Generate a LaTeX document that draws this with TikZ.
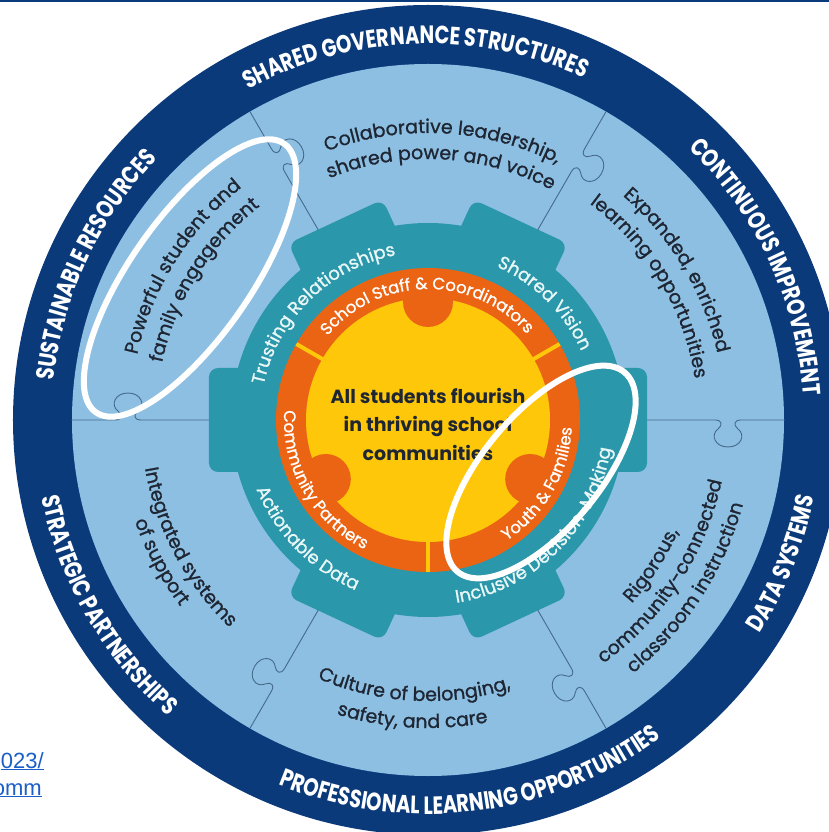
\documentclass[tikz,border=0pt]{standalone}
\usepackage{fontspec}
\setmainfont{Poppins}
\newfontfamily\ringfont[FakeStretch=0.78]{Poppins}
\newfontfamily\pzfont[FakeBold=1.1]{Poppins}
\newfontfamily\linkfont{Liberation Sans}
\usetikzlibrary{decorations.text}
\definecolor{ringblue}{HTML}{0B3A7B}
\definecolor{piecebl}{HTML}{8DBFE3}
\definecolor{gearteal}{HTML}{2A97AA}
\definecolor{ringorange}{HTML}{EB6414}
\definecolor{sunyellow}{HTML}{FFC709}
\definecolor{inktext}{HTML}{1E2633}
\definecolor{seamline}{HTML}{456A8C}
\definecolor{linkblue}{HTML}{1A5FC8}
\definecolor{gearink}{HTML}{EAF7F7}
\tikzset{
     seam/.style={seamline, line width=0.9pt},
     tooth/.style={fill=gearteal, rounded corners=9pt},
     divider/.style={sunyellow, line width=4pt},
     highlight/.style={white, line width=6pt},
     goal/.style={align=center, text=inktext, font=\bfseries\fontsize{19}{28.5}\selectfont},
     link/.style={text=linkblue, font=\linkfont\fontsize{22}{24}\selectfont, inner sep=0pt, anchor=base east},
    }
\newcommand{\ringfmt}{\color{white}\ringfont\bfseries\fontsize{25}{27}\selectfont}
\newcommand{\pzfmt}{\color{inktext}\pzfont\fontsize{19}{22}\selectfont}
\newcommand{\gearfmt}{\color{gearink}\pzfont\fontsize{18}{20}\selectfont}
\newcommand{\orfmt}{\color{white}\pzfont\fontsize{16.5}{18}\selectfont}
\newcommand{\uparc}[4]{\path[decorate,decoration={text along path,text align=center,text={|#3|#4}}] (#1+85:#2) arc[start angle=#1+85,end angle=#1-85,radius=#2];}
\newcommand{\downarc}[4]{\path[decorate,decoration={text along path,text align=center,text={|#3|#4}}] (#1-85:#2) arc[start angle=#1-85,end angle=#1+85,radius=#2];}

\begin{document}
\begin{tikzpicture}[x=1pt,y=1pt]
            \clip (-428,-412) rectangle (401,420);
            \fill[white] (-428,-412) rectangle (401,420);
            \fill[ringblue] (-428,420) rectangle (401,417.5);

            \fill[ringblue] (0,0) circle (415);
            \fill[piecebl] (0,0) circle (356);
            \foreach \a in {0,60,...,300}
                \draw[seam, rotate=\a] (190,0) -- (287,0) .. controls (294,0) and (295,-5) .. (290,-9)
                    .. controls (282,-15) and (287,-27) .. (300,-27) .. controls (313,-27) and (318,-15) .. (310,-9)
                    .. controls (305,-5) and (306,0) .. (313,0) -- (356,0);

            \uparc{92}{376}{\ringfmt}{SHARED GOVERNANCE STRUCTURES}
            \uparc{25}{376}{\ringfmt}{CONTINUOUS IMPROVEMENT}
            \uparc{155}{376}{\ringfmt}{SUSTAINABLE RESOURCES}
            \downarc{338}{394}{\ringfmt}{DATA SYSTEMS}
            \downarc{277}{394}{\ringfmt}{PROFESSIONAL LEARNING OPPORTUNITIES}
            \downarc{210}{394}{\ringfmt}{STRATEGIC PARTNERSHIPS}

            \uparc{87}{287}{\pzfmt}{Collaborative leadership,}
            \uparc{87}{261}{\pzfmt}{shared power and voice}
            \uparc{31}{297}{\pzfmt}{Expanded, enriched}
            \uparc{31}{270}{\pzfmt}{learning opportunities}
            \uparc{148}{298}{\pzfmt}{Powerful student and}
            \uparc{148}{272}{\pzfmt}{family engagement}
            \downarc{267}{281}{\pzfmt}{Culture of belonging,}
            \downarc{267}{308}{\pzfmt}{safety, and care}
            \downarc{327}{274}{\pzfmt}{Rigorous,}
            \downarc{327}{300}{\pzfmt}{community-connected}
            \downarc{327}{326}{\pzfmt}{classroom instruction}
            \downarc{208}{287}{\pzfmt}{Integrated systems}
            \downarc{208}{310}{\pzfmt}{of support}

            \fill[gearteal] (0,0) circle (197);
            \foreach \a in {0,65,115,180,245,295}
                \fill[tooth, rotate=\a] (150,-52) rectangle (219,52);
            \fill[ringorange] (0,0) circle (152);
            \fill[sunyellow] (0,0) circle (122);
            \foreach \a in {90,210,330}
                \fill[ringorange] (\a:118) circle (25);
            \foreach \a in {30,150,270}
                \draw[divider] (\a:121) -- (\a:152);

            \uparc{134.5}{168}{\gearfmt}{Trusting Relationships}
            \uparc{45}{168}{\gearfmt}{Shared Vision}
            \downarc{224.5}{185}{\gearfmt}{Actionable Data}
            \downarc{315}{185}{\gearfmt}{Inclusive Decision-Making}
            \uparc{90.5}{131}{\orfmt}{School Staff {\&} Coordinators}
            \downarc{210}{144}{\orfmt}{Community Partners}
            \downarc{330}{144}{\orfmt}{Youth {\&} Families}

            \node[goal] (flourish) at (0,-4) {All students flourish\\in thriving school\\communities};

            \draw[highlight, rotate around={55:(-238,142)}] (-238,142) ellipse[x radius=164, y radius=60];
            \draw[highlight, rotate around={50:(113,-52)}] (113,-52) ellipse[x radius=130, y radius=58];

            \node[link] (linktop) at (-384,-348) {\underline{023/}};
            \node[link] (linkbot) at (-386,-375) {\underline{omm}};
      \end{tikzpicture}
\end{document}
